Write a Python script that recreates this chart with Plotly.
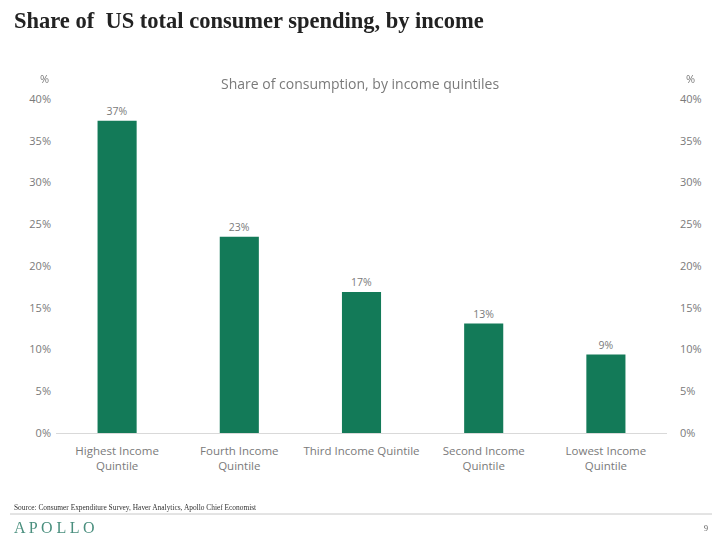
import plotly.graph_objects as go

# --- data ---
categories = ["Highest Income<br>Quintile", "Fourth Income<br>Quintile", "Third Income Quintile",
              "Second Income<br>Quintile", "Lowest Income<br>Quintile"]
shares = [37.4, 23.5, 16.9, 13.1, 9.4]
share_labels = ["37%", "23%", "17%", "13%", "9%"]
tick_vals = [0, 5, 10, 15, 20, 25, 30, 35, 40]
tick_text = ["0%", "5%", "10%", "15%", "20%", "25%", "30%", "35%", "40%"]

W, H = 720, 541
OFF = 8  # page body margin pushes the figure right/down
L, T = 56 - OFF, 99 - OFF
R, B = W - (667 - OFF), H - (433 - OFF)
GREEN = "#137a58"
GREY = "#7a7a7a"


def px(x):
    """screen pixel x -> paper x"""
    return (x - OFF - L) / (W - L - R)


def py(y):
    """screen pixel y -> paper y"""
    return (H - B - (y - OFF)) / (H - T - B)


fig = go.Figure()

fig.add_trace(go.Bar(
    x=categories, y=shares, marker=dict(color=GREEN, line_width=0),
    text=share_labels, textposition="outside", cliponaxis=False,
    textfont=dict(family="Open Sans", size=10.5, color=GREY),
    hoverinfo="skip", showlegend=False,
))
# invisible copy so the right hand axis gets drawn
fig.add_trace(go.Scatter(
    x=categories, y=shares, yaxis="y2", mode="markers", opacity=0,
    hoverinfo="skip", showlegend=False,
))

axis_font = dict(family="Open Sans", size=11, color=GREY)
fig.update_layout(
    width=W, height=H,
    margin=dict(l=L, r=R, t=T, b=B),
    paper_bgcolor="white", plot_bgcolor="white",
    bargap=0.68,
    xaxis=dict(showgrid=False, showline=True, linecolor="#d9d9d9", linewidth=1,
               ticks="", tickfont=dict(family="Open Sans", size=11.5, color=GREY),
               zeroline=False, ticklabelstandoff=7),
    yaxis=dict(range=[0, 40], tickvals=tick_vals, ticktext=tick_text, showgrid=False,
               zeroline=False, showline=False, tickfont=axis_font, ticklabelstandoff=4),
    yaxis2=dict(range=[0, 40], tickvals=tick_vals, ticktext=tick_text, showgrid=False,
                zeroline=False, showline=False, overlaying="y", side="right",
                tickfont=axis_font, ticklabelstandoff=12),
)

# titles and labels
fig.add_annotation(x=px(12), y=py(20), xref="paper", yref="paper", xanchor="left", yanchor="middle",
                   text="<b>Share of  US total consumer spending, by income</b>", showarrow=False,
                   font=dict(family="Liberation Serif", size=22.5, color="#222222"))
fig.add_annotation(x=px(360), y=py(83), xref="paper", yref="paper", xanchor="center", yanchor="middle",
                   text="Share of consumption, by income quintiles", showarrow=False,
                   font=dict(family="Open Sans", size=14, color=GREY))
fig.add_annotation(x=px(44), y=py(78), xref="paper", yref="paper", xanchor="center", yanchor="middle",
                   text="%", showarrow=False, font=axis_font)
fig.add_annotation(x=px(690), y=py(78), xref="paper", yref="paper", xanchor="center", yanchor="middle",
                   text="%", showarrow=False, font=axis_font)

# footer
fig.add_annotation(x=px(12), y=py(507), xref="paper", yref="paper", xanchor="left", yanchor="middle",
                   text="Source: Consumer Expenditure Survey, Haver Analytics, Apollo Chief Economist",
                   showarrow=False, font=dict(family="Liberation Serif", size=7.4, color="#333333"))
fig.add_shape(type="line", xref="paper", yref="paper", x0=px(10), x1=px(712), y0=py(514), y1=py(514),
              line=dict(color="#c8c8c8", width=1))
fig.add_annotation(x=px(12), y=py(527), xref="paper", yref="paper", xanchor="left", yanchor="middle",
                   text="A P O L L O", showarrow=False,
                   font=dict(family="Liberation Serif", size=16, color="#4a8f7e"))
fig.add_annotation(x=px(706), y=py(528), xref="paper", yref="paper", xanchor="center", yanchor="middle",
                   text="9", showarrow=False, font=dict(family="Liberation Serif", size=8, color="#555555"))

fig.write_html("out.html")
